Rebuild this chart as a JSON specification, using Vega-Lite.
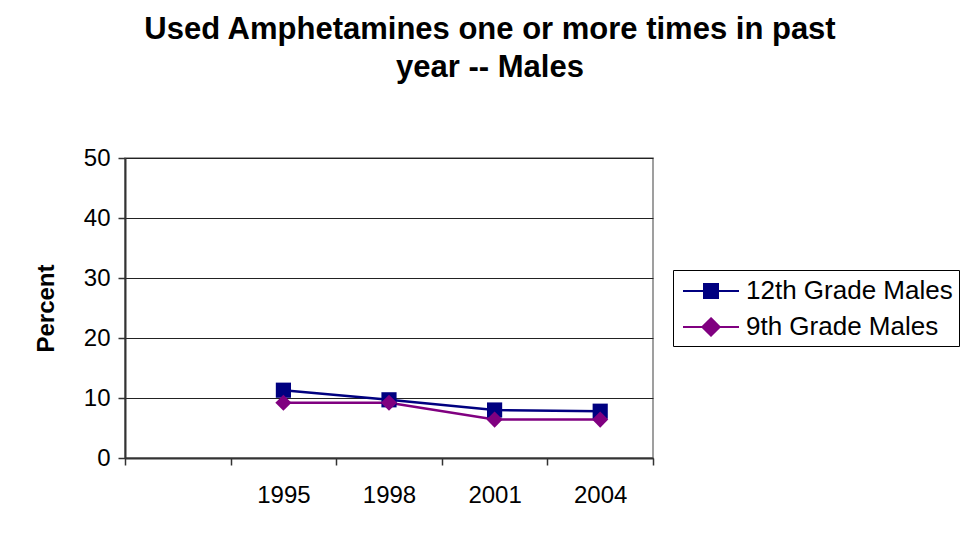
{
  "$schema": "https://vega.github.io/schema/vega-lite/v6.json",
  "width": 528,
  "height": 300,
  "autosize": "none",
  "padding": {"left": 125, "top": 158, "right": 321, "bottom": 79},
  "background": "white",
  "title": {
    "text": ["Used Amphetamines one or more times in past", "year -- Males"],
    "font": "Liberation Sans",
    "fontSize": 31,
    "fontWeight": "bold",
    "color": "black",
    "anchor": "middle",
    "dx": 101,
    "lineHeight": 38,
    "offset": 62
  },
  "config": {
    "view": {"stroke": "#808080", "strokeWidth": 1.5},
    "font": "Liberation Sans",
    "legend": {
      "title": null,
      "orient": "none",
      "legendX": 548,
      "legendY": 112,
      "padding": 6,
      "rowPadding": 8,
      "strokeColor": "black",
      "fillColor": "white",
      "symbolSize": 784,
      "symbolOffset": 17,
      "symbolStrokeWidth": 2,
      "labelFont": "Liberation Sans",
      "labelFontSize": 26,
      "labelColor": "black",
      "labelOffset": 20,
      "labelLimit": 300
    }
  },
  "data": {
    "values": [
      {"year": "1995", "series": "12th Grade Males", "value": 11.3},
      {"year": "1998", "series": "12th Grade Males", "value": 9.7},
      {"year": "2001", "series": "12th Grade Males", "value": 8.0},
      {"year": "2004", "series": "12th Grade Males", "value": 7.8},
      {"year": "1995", "series": "9th Grade Males", "value": 9.2},
      {"year": "1998", "series": "9th Grade Males", "value": 9.2},
      {"year": "2001", "series": "9th Grade Males", "value": 6.4},
      {"year": "2004", "series": "9th Grade Males", "value": 6.4}
    ]
  },
  "encoding": {
    "x": {
      "field": "year",
      "type": "ordinal",
      "bandPosition": 0.5,
      "scale": {"type": "band", "domain": ["0", "1995", "1998", "2001", "2004"], "paddingInner": 0, "paddingOuter": 0},
      "axis": {
        "title": null,
        "labelExpr": "datum.value == '0' ? '' : datum.value",
        "labelAngle": 0,
        "labelFont": "Liberation Sans",
        "labelFontSize": 24,
        "labelColor": "black",
        "labelPadding": 18,
        "tickBand": "extent",
        "tickSize": 7,
        "tickColor": "#333333",
        "tickWidth": 1.5,
        "domainColor": "#333333",
        "domainWidth": 2,
        "grid": false
      }
    },
    "y": {
      "field": "value",
      "type": "quantitative",
      "scale": {"domain": [0, 50], "nice": false, "zero": true},
      "axis": {
        "title": "Percent",
        "titleFont": "Liberation Sans",
        "titleFontSize": 24,
        "titleFontWeight": "bold",
        "titleColor": "black",
        "titleX": -79,
        "titleY": 150,
        "titleAlign": "center",
        "titleBaseline": "middle",
        "values": [0, 10, 20, 30, 40, 50],
        "labelFont": "Liberation Sans",
        "labelFontSize": 24,
        "labelColor": "black",
        "labelPadding": 8,
        "tickSize": 7,
        "tickColor": "#333333",
        "tickWidth": 1.5,
        "domainColor": "#333333",
        "domainWidth": 2,
        "grid": true,
        "gridColor": "#222222",
        "gridWidth": 1
      }
    },
    "color": {
      "field": "series",
      "type": "nominal",
      "scale": {"domain": ["12th Grade Males", "9th Grade Males"], "range": ["#000080", "#800080"]},
      "legend": {
        "symbolType": "M-2,0H2M-0.5,-0.5H0.5V0.5H-0.5Z",
        "encode": {
          "symbols": {
            "update": {
              "shape": {"signal": "datum.value === '12th Grade Males' ? 'M-2,0H2M-0.5,-0.5H0.5V0.5H-0.5Z' : 'M-2,0H2M0,-0.62L0.62,0L0,0.62L-0.62,0Z'"},
              "fill": {"signal": "datum.value === '12th Grade Males' ? '#000080' : '#800080'"},
              "stroke": {"signal": "datum.value === '12th Grade Males' ? '#000080' : '#800080'"},
              "strokeWidth": {"value": 2},
              "opacity": {"value": 1}
            }
          }
        }
      }
    }
  },
  "layer": [
    {
      "mark": {"type": "line", "strokeWidth": 2.5}
    },
    {
      "transform": [{"filter": "datum.series === '12th Grade Males'"}],
      "mark": {"type": "point", "filled": true, "opacity": 1, "shape": "square", "size": 230}
    },
    {
      "transform": [{"filter": "datum.series === '9th Grade Males'"}],
      "mark": {"type": "point", "filled": true, "opacity": 1, "shape": "diamond", "size": 260}
    }
  ]
}
